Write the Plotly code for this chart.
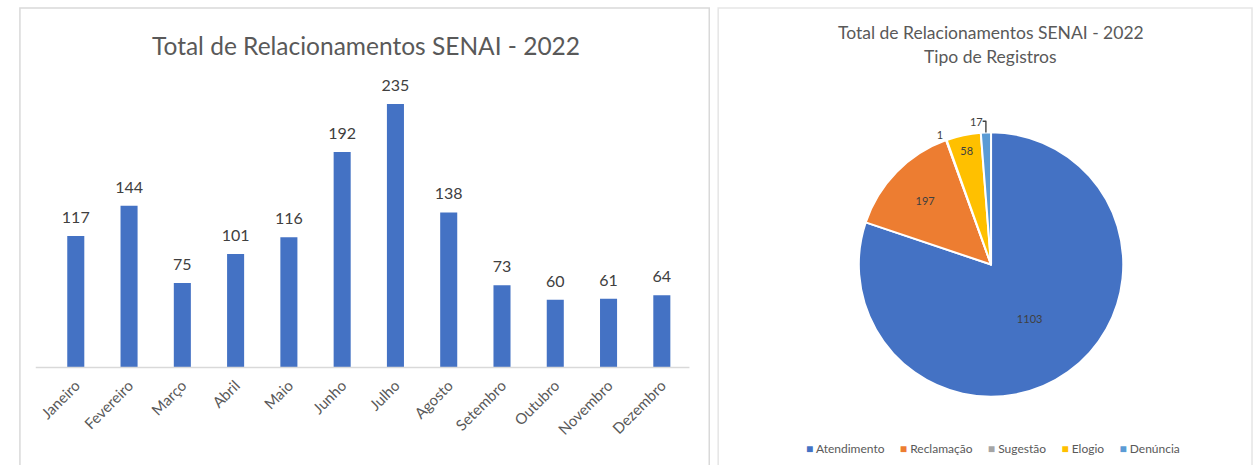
import plotly.graph_objects as go

months = ["Janeiro", "Fevereiro", "Março", "Abril", "Maio", "Junho", "Julho",
          "Agosto", "Setembro", "Outubro", "Novembro", "Dezembro"]
month_values = [117, 144, 75, 101, 116, 192, 235, 138, 73, 60, 61, 64]

types = ["Atendimento", "Reclamação", "Sugestão", "Elogio", "Denúncia"]
type_values = [1103, 197, 1, 58, 17]
type_colors = ["#4472C4", "#ED7D31", "#A5A5A5", "#FFC000", "#5B9BD5"]

W, H = 1254, 465
FONT = "Lato"

def px(x):
    return x / W

def py(y):
    return (H - y) / H

fig = go.Figure()

fig.add_trace(go.Bar(
    x=months, y=month_values,
    marker=dict(color="#4472C4", line=dict(width=0)),
    showlegend=False, width=0.32, hoverinfo="x+y",
))

fig.add_trace(go.Scatter(
    x=months, y=month_values, mode="markers+text",
    marker=dict(size=13, color="rgba(0,0,0,0)"),
    text=[str(v) for v in month_values], textposition="top center",
    textfont=dict(family=FONT, size=16, color="#404040"),
    cliponaxis=False, showlegend=False, hoverinfo="skip",
))

fig.add_trace(go.Pie(
    labels=types, values=type_values, sort=False, direction="clockwise",
    rotation=0,
    marker=dict(colors=type_colors, line=dict(color="white", width=2)),
    textinfo="value",
    textposition=["inside", "inside", "outside", "inside", "outside"],
    insidetextorientation="horizontal",
    textfont=dict(family=FONT, size=11, color="#404040"),
    domain=dict(x=[px(855), px(1122)], y=[py(398), py(131)]),
    showlegend=False,
))

legend_text = "     ".join(
    f'<span style="color:{c}">■</span> {t}' for t, c in zip(types, type_colors)
)

scale = (367 - 104) / 235.0
top_px = 60
yr = (367 - top_px) / scale

fig.update_layout(
    width=W, height=H,
    margin=dict(l=0, r=0, t=0, b=0),
    paper_bgcolor="white", plot_bgcolor="white",
    font=dict(family=FONT, color="#595959"),
    xaxis=dict(domain=[px(37.5), px(683)], tickangle=-45,
               range=[-0.5, len(months) - 0.5],
               tickfont=dict(family=FONT, size=15, color="#595959"),
               ticklabelstandoff=6,
               showline=False, showgrid=False, zeroline=False,
               ticks="", fixedrange=True),
    yaxis=dict(domain=[py(367), py(top_px)], range=[0, yr], visible=False,
               showgrid=False, fixedrange=True),
    showlegend=False,
    annotations=[
        dict(text="Total de Relacionamentos SENAI - 2022", x=px(357), y=py(45),
             xref="paper", yref="paper", showarrow=False, xanchor="center", yanchor="middle",
             font=dict(family=FONT, size=24.5, color="#595959")),
        dict(text="Total de Relacionamentos SENAI - 2022", x=px(988), y=py(33),
             xref="paper", yref="paper", showarrow=False,
             xanchor="center", yanchor="middle",
             font=dict(family=FONT, size=17.5, color="#595959")),
        dict(text="Tipo de Registros", x=px(988), y=py(57),
             xref="paper", yref="paper", showarrow=False,
             xanchor="center", yanchor="middle",
             font=dict(family=FONT, size=17.5, color="#595959")),
        dict(text=legend_text, x=px(990), y=py(448),
             xref="paper", yref="paper", showarrow=False,
             xanchor="center", yanchor="middle",
             font=dict(family=FONT, size=12, color="#595959")),
    ],
    shapes=[
        dict(type="line", xref="paper", yref="paper", x0=px(24), x1=px(684),
             y0=py(367.5), y1=py(367.5), line=dict(color="#d9d9d9", width=1.5)),
        dict(type="rect", xref="paper", yref="paper", x0=px(8), x1=px(704),
             y0=-0.05, y1=py(8), line=dict(color="#d9d9d9", width=1.5)),
        dict(type="rect", xref="paper", yref="paper", x0=px(713), x1=px(1252),
             y0=-0.05, y1=py(8), line=dict(color="#e6e6e6", width=1.5)),
    ],
)

fig.write_html("out.html", config={"displayModeBar": False},
               post_script="document.body.style.margin='0';")
